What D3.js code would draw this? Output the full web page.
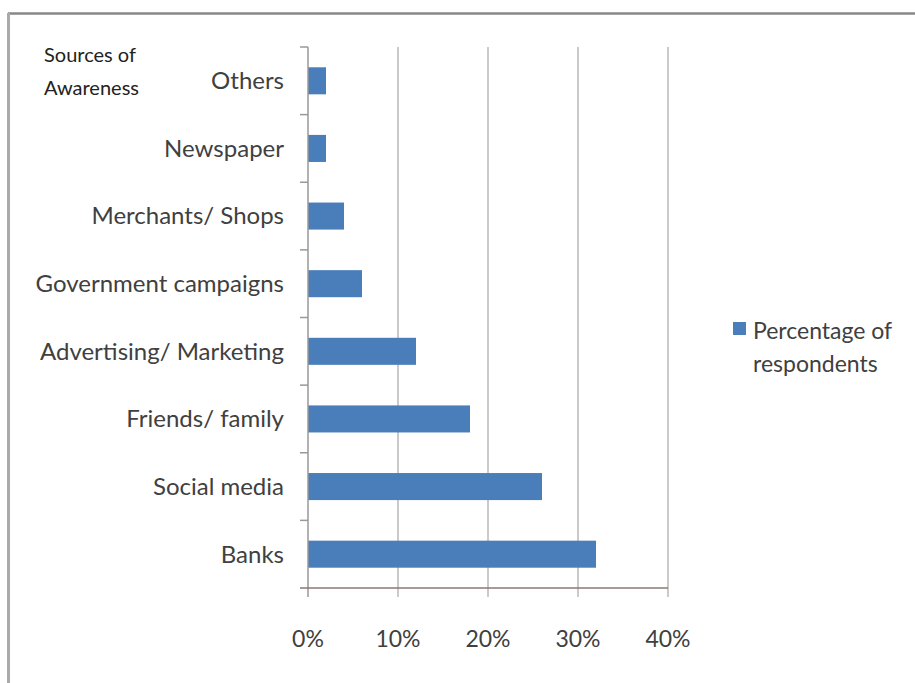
<!DOCTYPE html>
<html>
<head>
<meta charset="utf-8">
<script src="https://cdn.jsdelivr.net/npm/d3@7"></script>
<style>
  body { margin: 0; background: #fff; }
  text { font-family: Lato, "Open Sans", sans-serif; fill: #404040; }
</style>
</head>
<body>
<div id="container"></div>
<script>
// data, top to bottom
var categories = ["Others", "Newspaper", "Merchants/ Shops", "Government campaigns",
                  "Advertising/ Marketing", "Friends/ family", "Social media", "Banks"];
var percentages = [2, 2, 4, 6, 12, 18, 26, 32];
var xTicks = [0, 10, 20, 30, 40];
var seriesName = ["Percentage of", "respondents"];
var axisTitle = ["Sources of", "Awareness"];

var width = 915, height = 683;
var margin = {top: 47, left: 308, right: 247, bottom: 95};
var barColor = "#4a7ebb";

var svg = d3.select("#container").append("svg")
    .attr("width", width)
    .attr("height", height);

// frame (only top and left edges are visible in the picture)
svg.append("line").attr("x1", 8).attr("x2", width).attr("y1", 13.5).attr("y2", 13.5)
    .style("stroke", "#888").style("stroke-width", 2.5);
svg.append("line").attr("x1", 8.5).attr("x2", 8.5).attr("y1", 13).attr("y2", height)
    .style("stroke", "#aaa").style("stroke-width", 3);

var x = d3.scaleLinear().domain([0, 40]).range([margin.left, width - margin.right]);
var y = d3.scaleBand().domain(categories)
    .range([margin.top, height - margin.bottom])
    .paddingInner(0.6).paddingOuter(0.3);

var plotTop = margin.top, plotBottom = height - margin.bottom;

// vertical gridlines
svg.append("g").selectAll("line")
    .data(xTicks.slice(1))
  .enter().append("line")
    .attr("x1", function(d) { return x(d); })
    .attr("x2", function(d) { return x(d); })
    .attr("y1", plotTop)
    .attr("y2", plotBottom + 9)
    .style("stroke", "#b8b8b8")
    .style("stroke-width", 1.5);

// bars
svg.append("g").selectAll("rect")
    .data(categories)
  .enter().append("rect")
    .attr("x", x(0))
    .attr("y", function(d) { return y(d); })
    .attr("width", function(d, i) { return x(percentages[i]) - x(0); })
    .attr("height", y.bandwidth())
    .style("fill", barColor);

// y axis (category axis) with ticks between bands
var yAxis = svg.append("g");
yAxis.append("line")
    .attr("x1", x(0)).attr("x2", x(0))
    .attr("y1", plotTop).attr("y2", plotBottom + 9)
    .style("stroke", "#999").style("stroke-width", 1.5);
yAxis.selectAll("line.tick")
    .data(d3.range(categories.length))
  .enter().append("line")
    .attr("class", "tick")
    .attr("x1", x(0) - 8).attr("x2", x(0))
    .attr("y1", function(i) { return plotTop + i * (plotBottom - plotTop) / categories.length; })
    .attr("y2", function(i) { return plotTop + i * (plotBottom - plotTop) / categories.length; })
    .style("stroke", "#999").style("stroke-width", 1.5);

yAxis.selectAll("text")
    .data(categories)
  .enter().append("text")
    .attr("x", x(0) - 24)
    .attr("y", function(d) { return y(d) + y.bandwidth() / 2; })
    .attr("dy", "0.35em")
    .attr("text-anchor", "end")
    .style("font-size", "24px")
    .text(function(d) { return d; });

// x axis
svg.append("line")
    .attr("x1", x(0) - 8).attr("x2", x(40))
    .attr("y1", plotBottom).attr("y2", plotBottom)
    .style("stroke", "#8a7a70").style("stroke-width", 1.5);

svg.append("g").selectAll("text")
    .data(xTicks)
  .enter().append("text")
    .attr("x", function(d) { return x(d); })
    .attr("y", 647)
    .attr("text-anchor", "middle")
    .style("font-size", "23px")
    .text(function(d) { return d + "%"; });

// axis title in the top-left corner
svg.append("g").selectAll("text")
    .data(axisTitle)
  .enter().append("text")
    .attr("x", 44)
    .attr("y", function(d, i) { return 62 + i * 33; })
    .style("font-size", "20px")
    .style("fill", "#222")
    .text(function(d) { return d; });

// legend
var legend = svg.append("g");
legend.append("rect")
    .attr("x", 733).attr("y", 322)
    .attr("width", 13).attr("height", 13)
    .style("fill", barColor);
legend.selectAll("text")
    .data(seriesName)
  .enter().append("text")
    .attr("x", 753)
    .attr("y", function(d, i) { return 339 + i * 33; })
    .style("font-size", "23px")
    .text(function(d) { return d; });
</script>
</body>
</html>
